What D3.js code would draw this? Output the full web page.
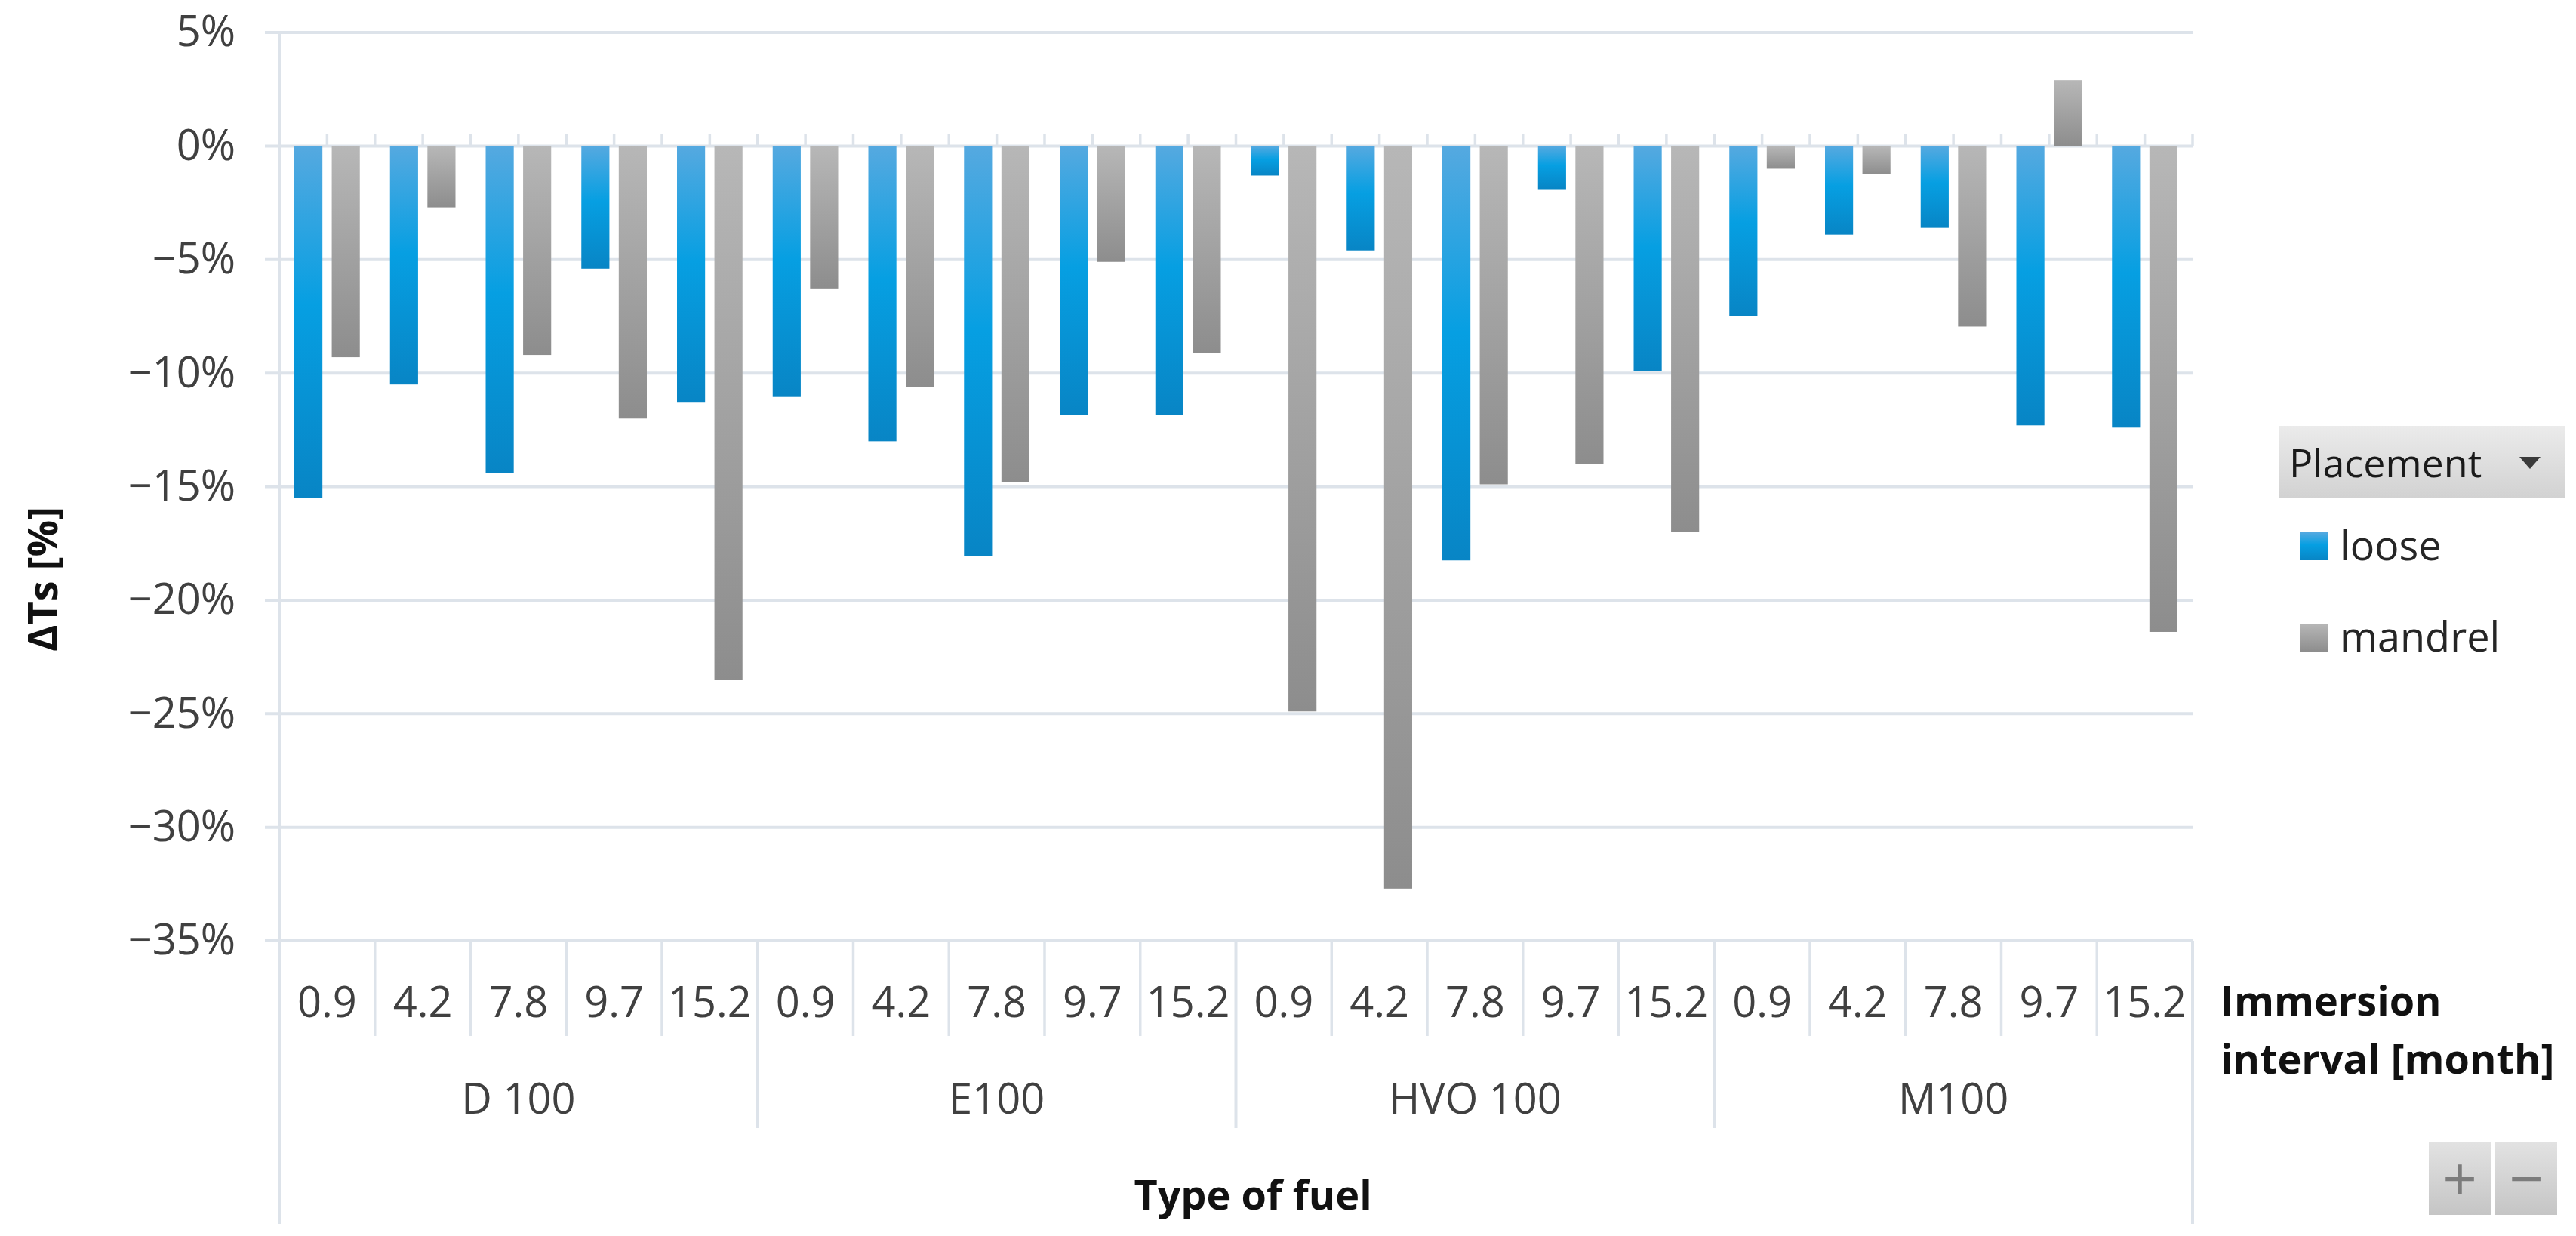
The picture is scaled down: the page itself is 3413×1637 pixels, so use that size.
<!DOCTYPE html>
<html>
<head>
<meta charset="utf-8">
<script src="https://cdn.jsdelivr.net/npm/d3@7"></script>
<style>
  body { margin: 0; background: #fff; }
  svg { display: block; font-family: "Open Sans", "DejaVu Sans", sans-serif; }
</style>
</head>
<body>
<script>
// data
var fuels = ["D 100", "E100", "HVO 100", "M100"];
var intervals = ["0.9", "4.2", "7.8", "9.7", "15.2"];
var placements = ["loose", "mandrel"];
var looseVals = [-15.5, -10.5, -14.4, -5.4, -11.3,
                 -11.05, -13.0, -18.05, -11.85, -11.85,
                 -1.3, -4.6, -18.25, -1.9, -9.9,
                 -7.5, -3.9, -3.6, -12.3, -12.4];
var mandrelVals = [-9.3, -2.7, -9.2, -12.0, -23.5,
                   -6.3, -10.6, -14.8, -5.1, -9.1,
                   -24.9, -32.7, -14.9, -14.0, -17.0,
                   -1.0, -1.25, -7.95, 2.9, -21.4];
var yTicks = [5, 0, -5, -10, -15, -20, -25, -30, -35];

var w = 3413, h = 1637;
var gridColor = "#dde3ea";

// one row per category (fuel + interval)
var rows = [];
fuels.forEach(function(f, fi) {
  intervals.forEach(function(iv, ii) {
    var k = fi * intervals.length + ii;
    rows.push({key: f + "|" + iv, fuel: f, interval: iv, idx: k,
               loose: looseVals[k], mandrel: mandrelVals[k]});
  });
});

var svg = d3.select("body").append("svg")
  .attr("width", w).attr("height", h);

svg.append("rect").attr("width", w).attr("height", h).attr("fill", "#fff");

var defs = svg.append("defs");
function grad(id, stops) {
  var g = defs.append("linearGradient").attr("id", id)
    .attr("x1", 0).attr("y1", 0).attr("x2", 0).attr("y2", 1);
  stops.forEach(function(s) {
    g.append("stop").attr("offset", s[0]).attr("stop-color", s[1]);
  });
}
grad("g-loose", [[0, "#55a9e0"], [0.45, "#069fe2"], [1, "#0885c5"]]);
grad("g-mandrel", [[0, "#b7b7b7"], [1, "#8d8d8d"]]);
grad("g-box", [[0, "#ebebeb"], [1, "#d2d2d2"]]);
grad("g-btn", [[0, "#e2e2e2"], [1, "#c5c5c5"]]);
var fills = {loose: "url(#g-loose)", mandrel: "url(#g-mandrel)"};

// scales
var x = d3.scaleBand()
  .domain(rows.map(function(d) { return d.key; }))
  .range([370, 2905])
  .padding(0);
var bw = x.bandwidth();

var xi = d3.scaleBand()
  .domain(placements)
  .range([20, bw - 20])
  .paddingInner(0.25);

var y = d3.scaleLinear().domain([-35, 5]).range([1246, 43]);

// gridlines
svg.append("g").selectAll("line")
  .data(yTicks).enter().append("line")
  .attr("x1", 351).attr("x2", 2905)
  .attr("y1", function(d) { return y(d); })
  .attr("y2", function(d) { return y(d); })
  .attr("stroke", gridColor).attr("stroke-width", 4);

// y axis labels
var yAxis = d3.axisLeft(y)
  .tickValues(yTicks)
  .tickSize(0)
  .tickPadding(58)
  .tickFormat(function(d) { return (d < 0 ? "\u2212" : "") + Math.abs(d) + "%"; });

var yg = svg.append("g")
  .attr("transform", "translate(370,0)")
  .call(yAxis);
yg.select(".domain").remove();
yg.selectAll("text")
  .style("font-family", "'Open Sans', sans-serif")
  .style("font-size", "56px")
  .attr("fill", "#404040");

// left axis line down through the label table
svg.append("line")
  .attr("x1", 370).attr("x2", 370)
  .attr("y1", y(5) - 2).attr("y2", 1621)
  .attr("stroke", gridColor).attr("stroke-width", 4);

// small ticks above the 0 line, every half band
var tickPos = [];
rows.forEach(function(d) {
  tickPos.push(x(d.key) + bw / 2);
  tickPos.push(x(d.key) + bw);
});
svg.append("g").selectAll("line")
  .data(tickPos).enter().append("line")
  .attr("x1", function(d) { return d; })
  .attr("x2", function(d) { return d; })
  .attr("y1", y(0))
  .attr("y2", y(0) - 16)
  .attr("stroke", gridColor).attr("stroke-width", 3.5);

// bars
var groups = svg.append("g").selectAll("g")
  .data(rows).enter().append("g")
  .attr("transform", function(d) { return "translate(" + x(d.key) + ",0)"; });

groups.selectAll("rect")
  .data(function(d) { return placements.map(function(p) { return {p: p, v: d[p]}; }); })
  .enter().append("rect")
  .attr("x", function(d) { return xi(d.p); })
  .attr("width", xi.bandwidth())
  .attr("y", function(d) { return y(Math.max(0, d.v)); })
  .attr("height", function(d) { return Math.abs(y(d.v) - y(0)); })
  .attr("fill", function(d) { return fills[d.p]; });

// category table below the plot
var table = svg.append("g");
table.selectAll("line")
  .data(rows).enter().append("line")
  .attr("x1", function(d) { return x(d.key) + bw; })
  .attr("x2", function(d) { return x(d.key) + bw; })
  .attr("y1", y(-35))
  .attr("y2", function(d) {
    if (d.idx === rows.length - 1) return 1621;
    if (d.idx % intervals.length === intervals.length - 1) return 1494;
    return 1372;
  })
  .attr("stroke", gridColor)
  .attr("stroke-width", function(d) { return d.idx % intervals.length === intervals.length - 1 ? 4 : 3.5; });

table.selectAll("text.sub")
  .data(rows).enter().append("text")
  .attr("class", "sub")
  .attr("x", function(d) { return x(d.key) + bw / 2; })
  .attr("y", 1347)
  .attr("text-anchor", "middle")
  .attr("font-size", 56)
  .attr("fill", "#404040")
  .text(function(d) { return d.interval; });

table.selectAll("text.grp")
  .data(fuels).enter().append("text")
  .attr("class", "grp")
  .attr("x", function(f) { return x(f + "|" + intervals[0]) + bw * intervals.length / 2; })
  .attr("y", 1475)
  .attr("text-anchor", "middle")
  .attr("font-size", 56)
  .attr("fill", "#404040")
  .text(function(f) { return f; });

// axis titles
svg.append("text")
  .attr("transform", "translate(76,767) rotate(-90)")
  .attr("text-anchor", "middle")
  .attr("font-size", 54).attr("font-weight", "bold")
  .attr("fill", "#111")
  .text("\u0394Ts [%]");

svg.append("text")
  .attr("x", 1660).attr("y", 1602)
  .attr("text-anchor", "middle")
  .attr("font-size", 54).attr("font-weight", "bold")
  .attr("fill", "#111")
  .text("Type of fuel");

var imm = svg.append("text")
  .attr("font-size", 54).attr("font-weight", "bold")
  .attr("fill", "#111");
imm.append("tspan").attr("x", 2942).attr("y", 1345).text("Immersion");
imm.append("tspan").attr("x", 2942).attr("y", 1422).text("interval [month]");

// legend (pivot field button + items)
var leg = svg.append("g");
leg.append("rect")
  .attr("x", 3019).attr("y", 564).attr("width", 379).attr("height", 95)
  .attr("fill", "url(#g-box)");
leg.append("text")
  .attr("x", 3033).attr("y", 632)
  .attr("font-size", 52).attr("fill", "#1a1a1a")
  .text("Placement");
leg.append("path")
  .attr("d", "M3338,605 L3366,605 L3352,621 Z")
  .attr("fill", "#3a3a3a");

var items = leg.selectAll("g.item")
  .data(placements).enter().append("g")
  .attr("class", "item")
  .attr("transform", function(d, i) { return "translate(3047," + (705 + i * 121) + ")"; });
items.append("rect")
  .attr("width", 37).attr("height", 37)
  .attr("fill", function(d) { return fills[d]; });
items.append("text")
  .attr("x", 53).attr("y", 37)
  .attr("font-size", 54).attr("fill", "#262626")
  .text(function(d) { return d; });

// +/- buttons
var btns = svg.append("g");
[{x: 3218, t: "+"}, {x: 3306, t: "\u2212"}].forEach(function(b) {
  btns.append("rect")
    .attr("x", b.x).attr("y", 1513).attr("width", 82).attr("height", 96)
    .attr("fill", "url(#g-btn)");
  btns.append("text")
    .attr("x", b.x + 41).attr("y", 1590)
    .attr("text-anchor", "middle")
    .attr("font-size", 80).attr("fill", "#7c7c7c")
    .text(b.t);
});
</script>
</body>
</html>
